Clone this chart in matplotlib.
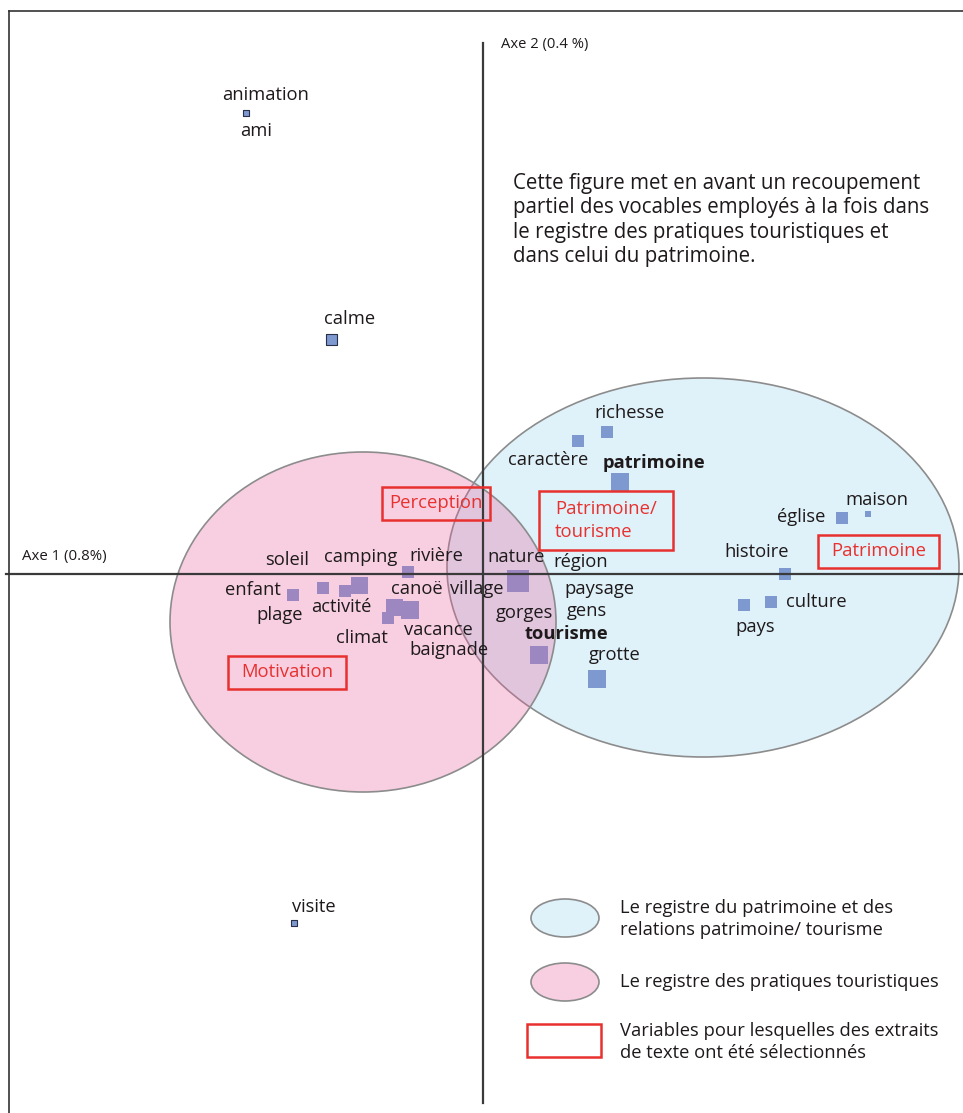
import matplotlib.pyplot as plt
from matplotlib.patches import Ellipse, Rectangle

plt.rcParams['font.family'] = ['Open Sans', 'DejaVu Sans']

# word coordinates on the two factorial axes (axe 1, axe 2) and marker size (px)
words = ['animation', 'calme', 'visite', 'richesse', 'caractère', 'patrimoine',
         'maison', 'église', 'histoire', 'culture', 'pays', 'grotte', 'tourisme',
         'nature', 'enfant', 'soleil', 'activité', 'camping', 'rivière', 'canoë',
         'vacance', 'climat']
axe1 = [-2.37, -1.52, -1.89, 1.24, 0.95, 1.37,
        3.85, 3.59, 3.02, 2.88, 2.61, 1.14, 0.56,
        0.35, -1.90, -1.60, -1.38, -1.24, -0.75, -0.89,
        -0.73, -0.95]
axe2 = [4.61, 2.35, -3.49, 1.42, 1.325, 0.92,
        0.60, 0.56, 0.00, -0.28, -0.31, -1.055, -0.81,
        -0.07, -0.215, -0.14, -0.17, -0.11, 0.02, -0.33,
        -0.36, -0.44]
size_px = [6, 11, 6, 12, 12, 18,
           6, 12, 12, 12, 12, 18, 18,
           22, 12, 12, 12, 17, 12, 17,
           18, 12]
outlined = ['animation', 'calme', 'visite']

# labels placed next to the points
labels = ['animation', 'ami', 'calme', 'visite', 'richesse', 'caractère', 'patrimoine',
          'maison', 'église', 'histoire', 'culture', 'pays', 'grotte', 'tourisme',
          'nature', 'région', 'paysage', 'gens', 'gorges', 'village', 'canoë',
          'soleil', 'camping', 'rivière', 'enfant', 'plage', 'activité', 'climat',
          'vacance', 'baignade']
label_x = [-2.17, -2.27, -1.33, -1.69, 1.46, 0.65, 1.71,
           3.94, 3.18, 2.74, 3.33, 2.72, 1.32, 0.83,
           0.33, 0.98, 1.16, 1.04, 0.41, -0.06, -0.66,
           -1.955, -1.22, -0.47, -2.30, -2.03, -1.42, -1.21,
           -0.45, -0.34]
label_y = [4.79, 4.43, 2.55, -3.33, 1.61, 1.14, 1.11,
           0.74, 0.57, 0.22, -0.28, -0.53, -0.81, -0.60,
           0.17, 0.12, -0.15, -0.37, -0.39, -0.15, -0.15,
           0.14, 0.17, 0.18, -0.16, -0.41, -0.33, -0.64,
           -0.56, -0.76]
bold_labels = ['patrimoine', 'tourisme']

# red boxes: variables for which text extracts were selected
box_text = ['Perception', 'Patrimoine/\ntourisme', 'Patrimoine', 'Motivation']
box_x0 = [-1.01, 0.56, 3.35, -2.55]
box_x1 = [0.07, 1.90, 4.56, -1.37]
box_y0 = [0.54, 0.24, 0.06, -1.15]
box_y1 = [0.87, 0.83, 0.39, -0.82]

# the two registers (ellipses): centre, width, height
reg_patrimoine = (2.20, 0.065, 5.12, 3.79)
reg_pratiques = (-1.20, -0.48, 3.86, 3.40)

blue_fill = '#dff1f9'
pink_fill = (232 / 255, 98 / 255, 158 / 255, 0.3)
edge_grey = '#8c8c8c'
marker_blue = '#7e98d0'
red = '#e8312f'
ink = '#1e1a1b'

fig = plt.figure(figsize=(9.63, 11.13), dpi=100)
ax = fig.add_axes([0, 0, 1, 1])
ax.set_xlim(-4.83, 4.80)
ax.set_ylim(-5.39, 5.74)
ax.axis('off')

# frame (left and top)
ax.plot([-4.74, -4.74], [-5.39, 5.63], color='#333333', lw=1.2, zorder=6)
ax.plot([-4.74, 4.80], [5.63, 5.63], color='#333333', lw=1.2, zorder=6)

cx, cy, w, h = reg_patrimoine
ax.add_patch(Ellipse((cx, cy), w, h, facecolor=blue_fill, edgecolor=edge_grey,
                     lw=1.2, zorder=1))

for word, x, y, s in zip(words, axe1, axe2, size_px):
    if word in outlined:
        ax.scatter(x, y, s=(s * 0.72) ** 2, marker='s', color=marker_blue,
                   edgecolor='#2a2f4a', linewidth=0.8, zorder=2)
    else:
        ax.scatter(x, y, s=(s * 0.72) ** 2, marker='s', color=marker_blue,
                   linewidth=0, zorder=2)

cx, cy, w, h = reg_pratiques
ax.add_patch(Ellipse((cx, cy), w, h, facecolor=pink_fill, edgecolor=edge_grey,
                     lw=1.2, zorder=3))

# factorial axes
ax.plot([-4.77, 4.80], [0, 0], color='#3a3a3a', lw=1.6, zorder=4)
ax.plot([0, 0], [5.31, -5.29], color='#3a3a3a', lw=1.6, zorder=4)
ax.text(-4.185, 0.17, 'Axe 1 (0.8%)', fontsize=10.8, color=ink, ha='center', va='center')
ax.text(0.62, 5.29, 'Axe 2 (0.4 %)', fontsize=10.6, color=ink, ha='center', va='center')

for lab, x, y in zip(labels, label_x, label_y):
    weight = 'bold' if lab in bold_labels else 'normal'
    ax.text(x, y, lab, fontsize=13.2, fontweight=weight, color=ink,
            ha='center', va='center', zorder=5)

for t, x0, x1, y0, y1 in zip(box_text, box_x0, box_x1, box_y0, box_y1):
    ax.add_patch(Rectangle((x0, y0), x1 - x0, y1 - y0, fill=False,
                           edgecolor=red, lw=1.8, zorder=5))
    if '\n' in t:
        ax.text(x0 + 0.16, (y0 + y1) / 2, t, fontsize=13.3, color=red, ha='left',
                va='center', linespacing=1.38, zorder=5)
    else:
        ax.text((x0 + x1) / 2, (y0 + y1) / 2, t, fontsize=13.3, color=red,
                ha='center', va='center', zorder=5)

ax.text(0.30, 3.54, 'Cette figure met en avant un recoupement\n'
        'partiel des vocables employés à la fois dans\n'
        'le registre des pratiques touristiques et\n'
        'dans celui du patrimoine.',
        fontsize=14.8, color=ink, ha='left', va='center', linespacing=1.22)

# legend
ax.add_patch(Ellipse((0.82, -3.44), 0.68, 0.38, facecolor=blue_fill,
                     edgecolor=edge_grey, lw=1.2))
ax.add_patch(Ellipse((0.82, -4.08), 0.68, 0.38, facecolor=pink_fill,
                     edgecolor=edge_grey, lw=1.2))
ax.add_patch(Rectangle((0.44, -4.83), 0.74, 0.33, fill=False, edgecolor=red, lw=1.8))
ax.text(1.37, -3.45, 'Le registre du patrimoine et des\nrelations patrimoine/ tourisme',
        fontsize=13.25, color=ink, ha='left', va='center', linespacing=1.3)
ax.text(1.37, -4.08, 'Le registre des pratiques touristiques',
        fontsize=13.25, color=ink, ha='left', va='center')
ax.text(1.37, -4.68, 'Variables pour lesquelles des extraits\nde texte ont été sélectionnés',
        fontsize=13.25, color=ink, ha='left', va='center', linespacing=1.3)

fig.savefig('out.png', dpi=100)
